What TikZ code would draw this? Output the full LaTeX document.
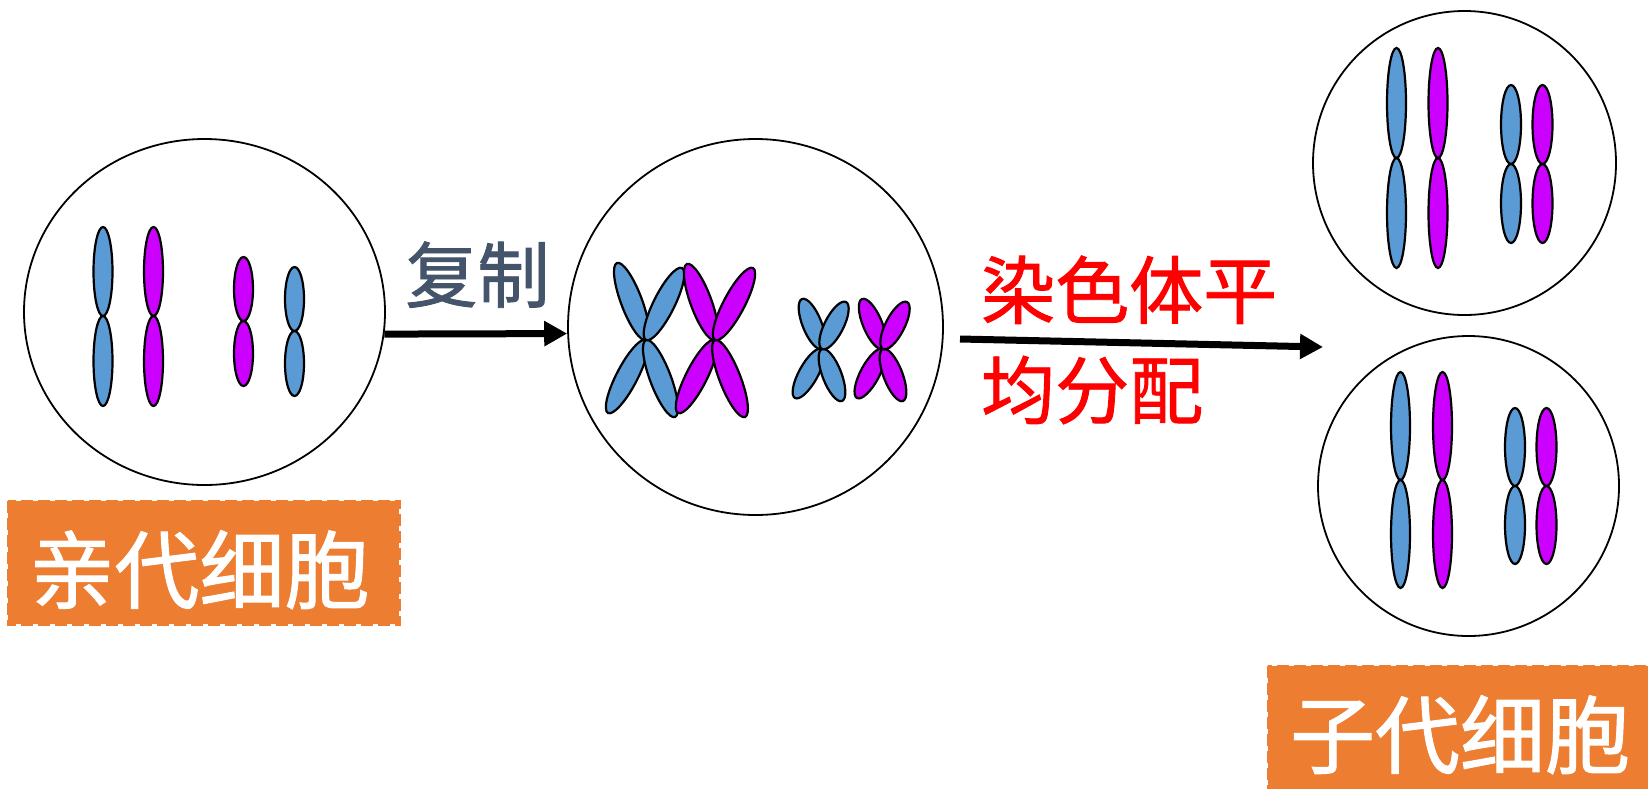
\documentclass[tikz,border=0pt]{standalone}
\usepackage{fontspec}
\newfontfamily\cjk{Noto Sans CJK SC}[FakeBold=1.2]
\usetikzlibrary{shapes.geometric,arrows.meta}

\definecolor{chromblue}{HTML}{5B9BD5}
\definecolor{chrompink}{HTML}{CC00FF}
\definecolor{labelorange}{HTML}{ED7D31}
\definecolor{stepgray}{HTML}{44546A}

\tikzset{
  cell/.style={shape=ellipse, draw=black, line width=1.8pt, inner sep=0pt},
  armshape/.style={draw=black, line width=2.2pt},
  flow/.style={line width=7pt, -{Triangle[length=23pt,width=24pt]}},
  labelbox/.style={fill=labelorange, draw=labelorange, line width=3pt, dash pattern=on 12pt off 5pt},
  labeltext/.style={font=\cjk\fontsize{85pt}{100pt}\selectfont, text=white, inner sep=0pt},
  steptext/.style={font=\cjk\fontsize{72pt}{86pt}\selectfont, text=stepgray, inner sep=0pt},
  splittext/.style={font=\cjk\fontsize{74pt}{90pt}\selectfont, text=red, inner sep=0pt},
}

% one arm of a replicated chromosome: from centromere (#1,#2) to tip (#3,#4)
\newcommand\chromarm[6]{%
  \pgfmathsetmacro\armcx{(#1+#3)/2}%
  \pgfmathsetmacro\armcy{(#2+#4)/2}%
  \pgfmathsetmacro\armang{atan2(-(#4-#2),#3-#1)}%
  \pgfmathsetmacro\armlen{veclen(#3-#1,#4-#2)/2}%
  \begin{scope}[shift={(\armcx,\armcy)},rotate=\armang]
    \draw[armshape,fill=#6] (0,0) ellipse [x radius=\armlen, y radius=#5];
  \end{scope}}

% an upright chromosome: x, top, centromere, bottom, half width, colour
\newcommand\chromrod[6]{%
  \draw[armshape,fill=#6] (#1,{(#2+#3)/2}) ellipse [x radius=#5, y radius={(#3-#2)/2}];
  \draw[armshape,fill=#6] (#1,{(#3+#4)/2}) ellipse [x radius=#5, y radius={(#4-#3)/2}];}

\begin{document}
\begin{tikzpicture}[x=1pt,y=-1pt]
\useasboundingbox (0,0) rectangle (1648,788);
\clip (0,0) rectangle (1648,788);
\fill[white] (0,0) rectangle (1648,788);

% cells
\node[cell, minimum width=361pt, minimum height=346pt] (parent) at (204.5,312) {};
\node[cell, minimum width=375pt, minimum height=376pt] (mid) at (755.5,327) {};
\node[cell, minimum width=303pt, minimum height=304pt] (daughterA) at (1464.5,163) {};
\node[cell, minimum width=301pt, minimum height=300pt] (daughterB) at (1468.5,486) {};

% parent cell chromosomes
\chromrod{103}{227}{316}{406}{9.5}{chromblue}
\chromrod{153.5}{227}{316}{406}{9.5}{chrompink}
\chromrod{243.5}{257}{321}{386}{9.5}{chrompink}
\chromrod{294.5}{267}{331}{396}{9.5}{chromblue}

% replicated chromosomes
\chromarm{646}{340}{617}{263}{10.5}{chromblue}
\chromarm{646}{340}{608}{413}{10.5}{chromblue}
\chromarm{646}{340}{675}{417}{10.5}{chromblue}
\chromarm{646}{340}{682}{268}{10.5}{chromblue}
\chromarm{715}{340}{687}{264}{10.5}{chrompink}
\chromarm{715}{340}{678}{413}{10.5}{chrompink}
\chromarm{715}{340}{745}{417}{10.5}{chrompink}
\chromarm{715}{340}{753}{268}{10.5}{chrompink}
\chromarm{822}{349}{802}{299}{9.5}{chromblue}
\chromarm{822}{349}{795}{398}{9.5}{chromblue}
\chromarm{822}{349}{842}{401}{9.5}{chromblue}
\chromarm{822}{349}{846}{302}{9.5}{chromblue}
\chromarm{883}{349}{862}{299}{9.5}{chrompink}
\chromarm{883}{349}{857}{398}{9.5}{chrompink}
\chromarm{883}{349}{903}{401}{9.5}{chrompink}
\chromarm{883}{349}{907}{302}{9.5}{chrompink}

% daughter cell chromosomes
\chromrod{1396.5}{48}{158}{268}{9.5}{chromblue}
\chromrod{1438}{48}{158}{268}{9.5}{chrompink}
\chromrod{1511}{85}{164}{243}{10}{chromblue}
\chromrod{1542.5}{85}{164}{243}{10}{chrompink}
\chromrod{1400.5}{372}{480}{588}{9.5}{chromblue}
\chromrod{1442.5}{372}{480}{588}{9.5}{chrompink}
\chromrod{1515}{408}{486}{564}{10}{chromblue}
\chromrod{1546.5}{408}{486}{564}{10}{chrompink}

% arrows
\draw[flow] (parent.-7.3) -- (mid.182.4);
\coordinate (splitfrom) at (960,339);
\coordinate (splitto) at (1323,347);
\draw[flow] (splitfrom) -- (splitto);

% arrow labels
\node[steptext, anchor=base] (copylabel) at (477.5,302) {复制};
\node[splittext, anchor=base west] (splitA) at (981,318) {染色体平};
\node[splittext, anchor=base west] (splitB) at (981,418) {均分配};

% cell labels
\path[labelbox] (8,501) rectangle (399,624);
\node[labeltext, anchor=base] (parentlabel) at (199.5,602) {亲代细胞};
\path[labelbox] (1268,666) rectangle (1670,810);
\node[labeltext, anchor=base] (daughterlabel) at (1460,767) {子代细胞};
\end{tikzpicture}
\end{document}
